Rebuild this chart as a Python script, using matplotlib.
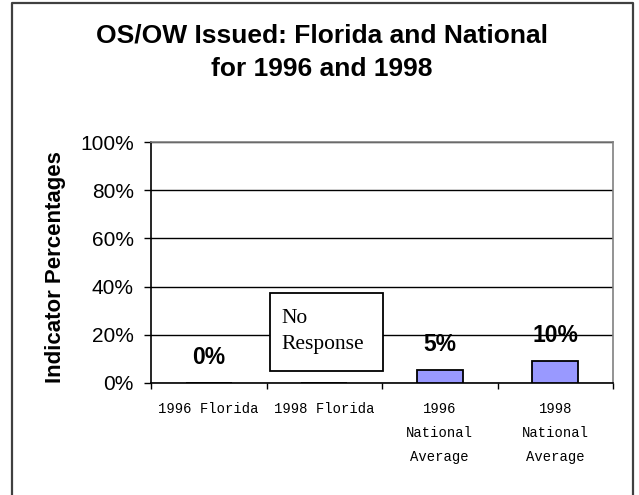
import matplotlib
matplotlib.use("Agg")
import matplotlib.pyplot as plt
from matplotlib.patches import Rectangle
from matplotlib.lines import Line2D
import numpy as np

# chart data
categories = ["1996 Florida", "1998 Florida", "1996\nNational\nAverage", "1998\nNational\nAverage"]
values = [0, np.nan, 5.3, 9.2]          # 1998 Florida: no response
value_labels = ["0%", "", "5%", "10%"]
yticks = [0, 20, 40, 60, 80, 100]

W, H = 639, 495
fig = plt.figure(figsize=(W / 100, H / 100), dpi=100)

# outer frame (open at the bottom, like the cropped original)
l, r, t = 11.5 / W, 633 / W, 1 - 2.5 / H
fig.add_artist(Line2D([l, l, r, r], [0, t, t, 0], transform=fig.transFigure,
                      color="#404040", linewidth=1.6))

ax = fig.add_axes([151 / W, (H - 383) / H, (613 - 151) / W, (383 - 142) / H])
x = np.arange(len(categories))

ax.bar(x, np.nan_to_num(values), width=0.4, color="#9999FF",
       edgecolor="black", linewidth=1.3, zorder=3)

for xi, v, lab in zip(x, values, value_labels):
    if lab:
        ax.annotate(lab, (xi, v), xytext=(0, 10), textcoords="offset points",
                    ha="center", va="bottom", fontsize=16.5, fontweight="bold",
                    family="Liberation Sans")

# "No Response" box for the missing category
ax.add_patch(Rectangle((1 - 0.47, 5), 0.98, 32.3, facecolor="white",
                       edgecolor="black", linewidth=1.3, zorder=4))
ax.text(1 - 0.375, 30.5, "No\nResponse", ha="left", va="top", fontsize=15.5,
        family="Liberation Serif", linespacing=1.45, zorder=5)

ax.set_xlim(-0.5, len(categories) - 0.5)
ax.set_ylim(0, 100)
ax.set_yticks(yticks, labels=[f"{t}%" for t in yticks])
ax.yaxis.grid(True, color="black", linewidth=1.0, zorder=0)
ax.set_axisbelow(True)

ax.set_xticks(x)
ax.set_xticklabels(categories, family="Liberation Mono", fontsize=10, linespacing=1.9)
ax.set_xticks(np.arange(len(categories) + 1) - 0.5, minor=True)
ax.tick_params(axis="x", which="major", length=0, pad=14)
ax.tick_params(axis="x", which="minor", length=4, width=1, direction="out")
ax.tick_params(axis="y", length=5, width=1, direction="out", pad=7.5)
for lab in ax.get_yticklabels():
    lab.set_family("Liberation Sans")
    lab.set_fontsize(15)

for side in ("top", "right"):
    ax.spines[side].set_color("#808080")
for side in ("left", "bottom"):
    ax.spines[side].set_color("black")
for s in ax.spines.values():
    s.set_linewidth(1.2)

ax.set_ylabel("Indicator Percentages", fontsize=16, fontweight="bold",
              family="Liberation Sans")
ax.yaxis.set_label_coords(-0.184, 0.48)

fig.text(322 / W, 1 - 52 / H, "OS/OW Issued: Florida and National\nfor 1996 and 1998",
         ha="center", va="center", fontsize=19, fontweight="bold",
         family="Liberation Sans", linespacing=1.5)

fig.savefig("out.png", dpi=100)
